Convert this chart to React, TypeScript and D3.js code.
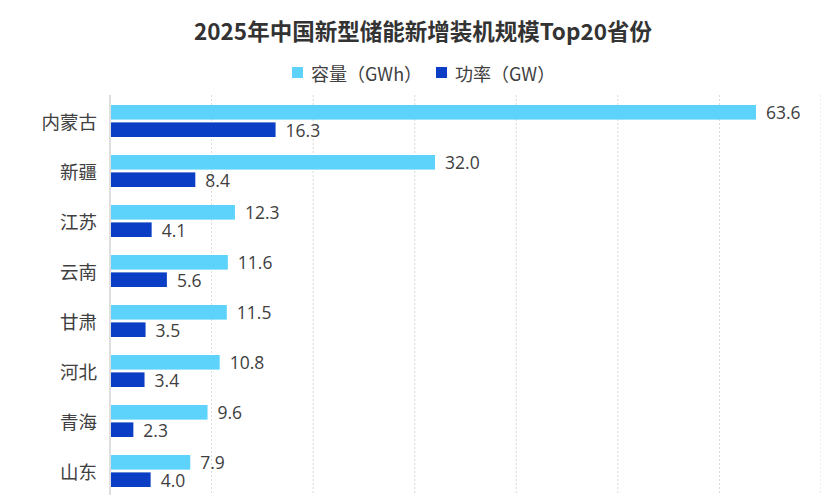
import React from 'react';
import * as d3 from 'd3';

const provinces = ['内蒙古', '新疆', '江苏', '云南', '甘肃', '河北', '青海', '山东'];
const capacity = [63.6, 32.0, 12.3, 11.6, 11.5, 10.8, 9.6, 7.9];
const power = [16.3, 8.4, 4.1, 5.6, 3.5, 3.4, 2.3, 4.0];
const seriesNames = ['容量（GWh）', '功率（GW）'];
const xTicks = [0, 10, 20, 30, 40, 50, 60, 70];

const WIDTH = 821;
const HEIGHT = 495;
const COLORS = ['#5dd3fb', '#0a3ec4'];
const FONT = '"Noto Sans CJK SC", "Noto Sans", sans-serif';
const NUM_FONT = '"Open Sans", "Noto Sans", sans-serif';

const App: React.FC = () => {
  const x = d3.scaleLinear().domain([0, 70]).range([110, 821]);
  const y = d3.scaleBand<string>().domain(provinces).range([96, 96 + 50 * provinces.length]);
  const inner = d3.scaleBand<string>().domain(['cap', 'pow']).range([9, 41]).paddingInner(0.16);

  const series = [
    { key: 'cap', values: capacity, color: COLORS[0] },
    { key: 'pow', values: power, color: COLORS[1] },
  ];

  return (
    <svg
      width={WIDTH}
      height={HEIGHT}
      style={{ position: 'absolute', left: 0, top: 0, background: '#fff', fontFamily: FONT }}
    >
      {/* title */}
      <text x={423} y={40} textAnchor="middle" fontSize={22.5} fontWeight="bold" fill="#333">
        2025年中国新型储能新增装机规模Top20省份
      </text>

      {/* legend */}
      <g fontSize={18} fill="#404040">
        <rect x={292} y={67} width={11} height={11} fill={COLORS[0]} />
        <text x={311} y={73} dominantBaseline="central">{seriesNames[0]}</text>
        <rect x={436} y={67} width={11} height={11} fill={COLORS[1]} />
        <text x={455} y={73} dominantBaseline="central">{seriesNames[1]}</text>
      </g>

      {/* grid */}
      {xTicks.slice(1).map((t) => (
        <line
          key={t}
          x1={x(t)}
          x2={x(t)}
          y1={95}
          y2={HEIGHT}
          stroke="#d9d9d9"
          strokeWidth={1}
          strokeDasharray="2,2"
        />
      ))}
      <line x1={x(0)} x2={x(0)} y1={95} y2={HEIGHT} stroke="#bfbfbf" strokeWidth={1} />

      {/* bars */}
      {provinces.map((p, i) => {
        const y0 = y(p) ?? 0;
        return (
          <g key={p}>
            <text
              x={97}
              y={y0 + 25}
              textAnchor="end"
              dominantBaseline="central"
              fontSize={18.5}
              fill="#404040"
            >
              {p}
            </text>
            {series.map((s) => {
              const by = y0 + (inner(s.key) ?? 0);
              const bh = inner.bandwidth();
              const v = s.values[i];
              return (
                <g key={s.key}>
                  <rect x={x(0) + 1} y={by} width={x(v) - x(0) - 1} height={bh} fill={s.color} />
                  <text
                    x={x(v) + 10}
                    y={by + bh / 2}
                    dominantBaseline="central"
                    fontSize={17.5}
                    fontFamily={NUM_FONT}
                    fill="#404040"
                  >
                    {v.toFixed(1)}
                  </text>
                </g>
              );
            })}
          </g>
        );
      })}
    </svg>
  );
};

export default App;
